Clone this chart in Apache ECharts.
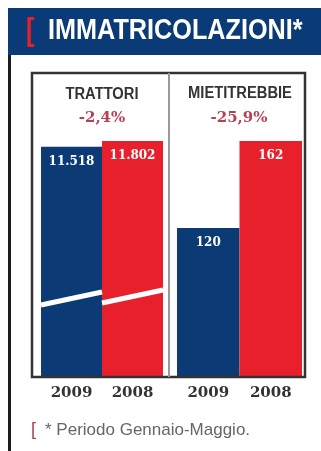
<!DOCTYPE html>
<html><head><meta charset="utf-8">
<script src="https://cdn.jsdelivr.net/npm/echarts@6/dist/echarts.min.js"></script>
<style>html,body{margin:0;padding:0;background:#fff}#c{width:321px;height:451px}</style>
</head><body><div id="c"></div>
<script>
const title = 'IMMATRICOLAZIONI*';
const categories = ['2009', '2008'];
const panelNames = ['TRATTORI', 'MIETITREBBIE'];
const panelChanges = ['-2,4%', '-25,9%'];
const trattori = [11518, 11802];
const mietitrebbie = [120, 162];
const breakLow = [3566, 3666];
const breakHigh = [4219, 4319];
const footnote = '* Periodo Gennaio-Maggio.';

const BLUE = '#0b3a74', RED = '#e8202b', HEAD = '#0a3b77';
const fmt = v => String(v).replace(/\B(?=(\d{3})+(?!\d))/g, '.');
const barColor = p => p.dataIndex === 0 ? BLUE : RED;
const numFont = '"DejaVu Serif", serif';

const chart = echarts.init(document.getElementById('c'), null, {renderer: 'canvas'});
const xAxisCommon = {
  type: 'category', data: categories,
  axisLine: {show: false}, axisTick: {show: false},
  axisLabel: {color: '#333', fontWeight: 'bold', fontSize: 15, fontFamily: numFont, margin: 10}
};
const labelCommon = {
  show: true, position: 'insideTop', distance: 9, color: '#fff',
  fontWeight: 'bold', fontSize: 12, fontFamily: numFont, formatter: p => fmt(p.value)
};
chart.setOption({
  animation: false,
  grid: [
    {left: 41, width: 122, top: 141, height: 235},
    {left: 177, width: 125, top: 141, height: 235}
  ],
  xAxis: [Object.assign({gridIndex: 0}, xAxisCommon), Object.assign({gridIndex: 1}, xAxisCommon)],
  yAxis: [
    {gridIndex: 0, type: 'value', min: 0, max: 11802, show: false},
    {gridIndex: 1, type: 'value', min: 48.5, max: 162, show: false}
  ],
  series: [
    {type: 'bar', xAxisIndex: 0, yAxisIndex: 0, data: trattori, barWidth: '100%',
     itemStyle: {color: barColor}, label: labelCommon},
    {type: 'bar', xAxisIndex: 1, yAxisIndex: 1, data: mietitrebbie, barWidth: '100%',
     itemStyle: {color: barColor}, label: labelCommon},
    {type: 'custom', xAxisIndex: 0, yAxisIndex: 0, z: 5,
     data: categories.map((c, i) => [i, breakLow[i], breakHigh[i]]),
     renderItem: (params, api) => {
       const x = api.coord([api.value(0), 0])[0];
       const bw = api.size([1, 0])[0];
       const y1 = api.coord([api.value(0), api.value(1)])[1];
       const y2 = api.coord([api.value(0), api.value(2)])[1];
       return {type: 'line', shape: {x1: x - bw / 2, y1: y1, x2: x + bw / 2, y2: y2},
               style: {stroke: '#fff', lineWidth: 5}};
     }}
  ],
  graphic: [
    {type: 'rect', shape: {x: 8, y: 8, width: 313, height: 47}, style: {fill: HEAD}},
    {type: 'rect', shape: {x: 8, y: 55, width: 3, height: 396}, style: {fill: '#1c1c1c'}},
    {type: 'text', x: 26, y: 31, scaleX: 0.8, style: {text: '[', fill: RED, font: 'bold 32px "Liberation Sans"', verticalAlign: 'middle'}},
    {type: 'text', x: 48, y: 31, scaleX: 0.87, style: {text: title, fill: '#fff', font: 'bold 29px "Liberation Sans"', verticalAlign: 'middle'}},
    {type: 'rect', z: 10, shape: {x: 32, y: 73, width: 273, height: 304}, style: {fill: 'none', stroke: '#333', lineWidth: 2.5}},
    {type: 'rect', z: 10, shape: {x: 168, y: 73, width: 2, height: 304}, style: {fill: '#999'}},
    {type: 'text', x: 102, y: 95, scaleX: 0.92, style: {text: panelNames[0], fill: '#333', font: 'bold 16px "Liberation Sans"', align: 'center', verticalAlign: 'middle'}},
    {type: 'text', x: 102, y: 118, style: {text: panelChanges[0], fill: '#b8404f', font: 'bold 15px ' + numFont, align: 'center', verticalAlign: 'middle'}},
    {type: 'text', x: 240, y: 94, scaleX: 0.92, style: {text: panelNames[1], fill: '#333', font: 'bold 16px "Liberation Sans"', align: 'center', verticalAlign: 'middle'}},
    {type: 'text', x: 239, y: 118, style: {text: panelChanges[1], fill: '#b8404f', font: 'bold 15px ' + numFont, align: 'center', verticalAlign: 'middle'}},
    {type: 'text', x: 31, y: 430, style: {text: '[', fill: '#a8444a', font: '18px "Liberation Sans"', verticalAlign: 'middle'}},
    {type: 'text', x: 45, y: 430, style: {text: footnote, fill: '#666', font: '17px "Liberation Sans"', verticalAlign: 'middle'}}
  ]
});
</script></body></html>
